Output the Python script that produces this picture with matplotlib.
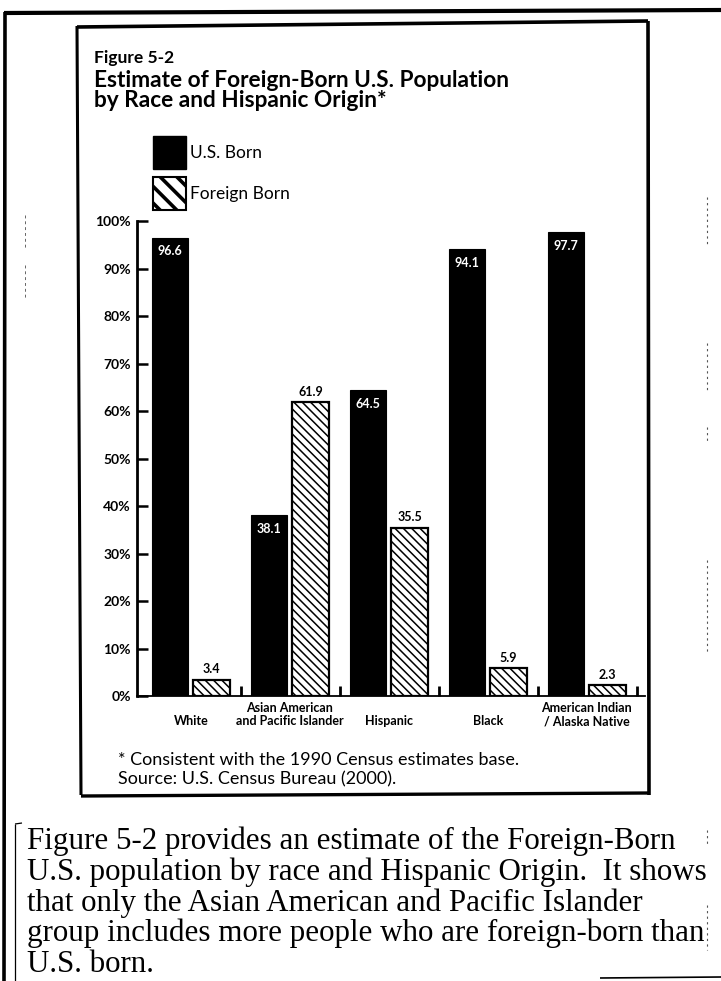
import matplotlib
matplotlib.use("Agg")
import matplotlib.pyplot as plt
import numpy as np
from matplotlib.patches import Patch
from matplotlib.lines import Line2D
import matplotlib.transforms as mtransforms

# ---------------- data ----------------
categories = ["White", "Asian American\nand Pacific Islander", "Hispanic",
              "Black", "American Indian\n/ Alaska Native"]
us_born = [96.6, 38.1, 64.5, 94.1, 97.7]
foreign_born = [3.4, 61.9, 35.5, 5.9, 2.3]
y_ticks = [0, 10, 20, 30, 40, 50, 60, 70, 80, 90, 100]
y_tick_labels = [f"{v}%" for v in y_ticks]
series_names = ["U.S. Born", "Foreign Born"]
fig_label = "Figure 5-2"
title_lines = ["Estimate of Foreign-Born U.S. Population",
               "by Race and Hispanic Origin*"]
footnotes = ["* Consistent with the 1990 Census estimates base.",
             "Source: U.S. Census Bureau (2000)."]
paragraph = ["Figure 5-2 provides an estimate of the Foreign-Born",
             "U.S. population by race and Hispanic Origin.  It shows",
             "that only the Asian American and Pacific Islander",
             "group includes more people who are foreign-born than",
             "U.S. born."]

W, H = 721, 981
plt.rcParams["hatch.linewidth"] = 1.1
SANS = ["Lato", "DejaVu Sans"]
SERIF = ["Liberation Serif", "DejaVu Serif"]

fig = plt.figure(figsize=(W / 100, H / 100), dpi=100)
fig.patch.set_facecolor("white")


def fx(x):
    return x / W


def fy(y):
    return 1 - y / H


def hline(x0, x1, y0, y1, lw, color="black", ls="-"):
    fig.add_artist(Line2D([fx(x0), fx(x1)], [fy(y0), fy(y1)],
                          transform=fig.transFigure, color=color, lw=lw,
                          ls=ls, solid_capstyle="butt"))


# page frame / scan lines
hline(4, 721, 13, 10, 3.0)          # top outer rule
hline(5, 4, 12, 981, 2.6)           # left outer rule
hline(77, 648, 27, 21, 2.6)         # chart box top
hline(77, 81, 26, 795, 2.2)         # chart box left
hline(648, 649, 21, 795, 2.6)       # chart box right
hline(81, 649, 796, 793, 2.4)       # chart box bottom
hline(15, 15, 824, 981, 0.9)        # paragraph left rule
hline(15, 22, 824, 823, 0.9)
hline(600, 721, 978, 977, 1.2)
# faint scan specks at the margins
for (y0, y1) in [(197, 247), (343, 393), (427, 443), (560, 653), (830, 845),
                 (905, 950)]:
    hline(707, 707, y0, y1, 0.8, color="#555555", ls=(0, (2, 3)))
for (y0, y1) in [(215, 250), (265, 300)]:
    hline(25, 25, y0, y1, 0.7, color="#666666", ls=(0, (3, 3)))

# ---------------- axes ----------------
ax_left, ax_right, ax_top, ax_bottom = 137, 645, 219, 696
ax = fig.add_axes([fx(ax_left), fy(ax_bottom), (ax_right - ax_left) / W,
                   (ax_bottom - ax_top) / H])
ax.set_facecolor("none")
x = np.arange(len(categories))
off, bw = 0.21, 0.37

ax.bar(x - off, us_born, bw, color="black", edgecolor="black", lw=0.8, zorder=2)
ax.bar(x + off, foreign_born, bw, facecolor="white", edgecolor="black",
       hatch="\\\\\\\\", lw=1.6, zorder=2)

ax.set_xlim(-0.545, 4.59)
ax.set_ylim(0, 100.5)
for s in ["top", "right"]:
    ax.spines[s].set_visible(False)
ax.spines["left"].set_linewidth(2.0)
ax.spines["left"].set_bounds(0, 100)
ax.spines["bottom"].set_linewidth(1.3)

ax.set_yticks(y_ticks)
ax.set_yticklabels(y_tick_labels, fontsize=10, fontweight="bold", family=SANS)
ax.tick_params(axis="y", direction="in", length=8, width=1.8, pad=4.5)

ax.set_xticks(x)
ax.set_xticklabels([])
ax.tick_params(axis="x", which="major", length=0)
ax.set_xticks(x + 0.51, minor=True)
ax.tick_params(axis="x", which="minor", direction="in", length=7, width=2.0)

# category labels
trans = mtransforms.blended_transform_factory(ax.transData, fig.transFigure)
for xi, lab in zip(x, categories):
    ax.text(xi, fy(727), lab, transform=trans, ha="center", va="bottom",
            fontsize=9, fontweight="bold", family=SANS, linespacing=1.05)

# value labels
for xi, v in zip(x, us_born):
    ax.annotate(f"{v}", (xi - off, v), xytext=(0, -10), textcoords="offset points",
                ha="center", va="center", color="white", fontsize=9,
                fontweight="bold", family=SANS)
for xi, v in zip(x, foreign_born):
    ax.annotate(f"{v}", (xi + off, v), xytext=(0, 7.5), textcoords="offset points",
                ha="center", va="center", color="black", fontsize=9,
                fontweight="bold", family=SANS)

# ---------------- titles ----------------
fig.text(fx(94), fy(63), fig_label, fontsize=12.5, fontweight="bold",
         family=SANS, va="baseline")
fig.text(fx(94), fy(87), title_lines[0], fontsize=16.3, fontweight="bold",
         family=SANS, va="baseline")
fig.text(fx(94), fy(107), title_lines[1], fontsize=16.3, fontweight="bold",
         family=SANS, va="baseline")

# ---------------- legend ----------------
with plt.rc_context({"hatch.linewidth": 2.6}):
    handles = [Patch(facecolor="black", edgecolor="black", lw=1.0),
               Patch(facecolor="white", edgecolor="black", hatch="\\\\", lw=1.5)]
    leg = fig.legend(handles, series_names, loc="upper left",
                     bbox_to_anchor=(fx(153), fy(136)), frameon=False,
                     prop={"family": SANS, "size": 12.5},
                     handlelength=1.9, handleheight=2.54, handletextpad=0.25,
                     labelspacing=0.46, borderpad=0, borderaxespad=0)

# ---------------- footnotes ----------------
fig.text(fx(118), fy(765), footnotes[0], fontsize=13, family=SANS, va="baseline")
fig.text(fx(118), fy(784), footnotes[1], fontsize=13, family=SANS, va="baseline")

# ---------------- paragraph ----------------
for i, line in enumerate(paragraph):
    fig.text(fx(27), fy(849 + 30.8 * i), line, fontsize=22.3, family=SERIF,
             va="baseline")

fig.savefig("out.png", dpi=100, facecolor="white")
